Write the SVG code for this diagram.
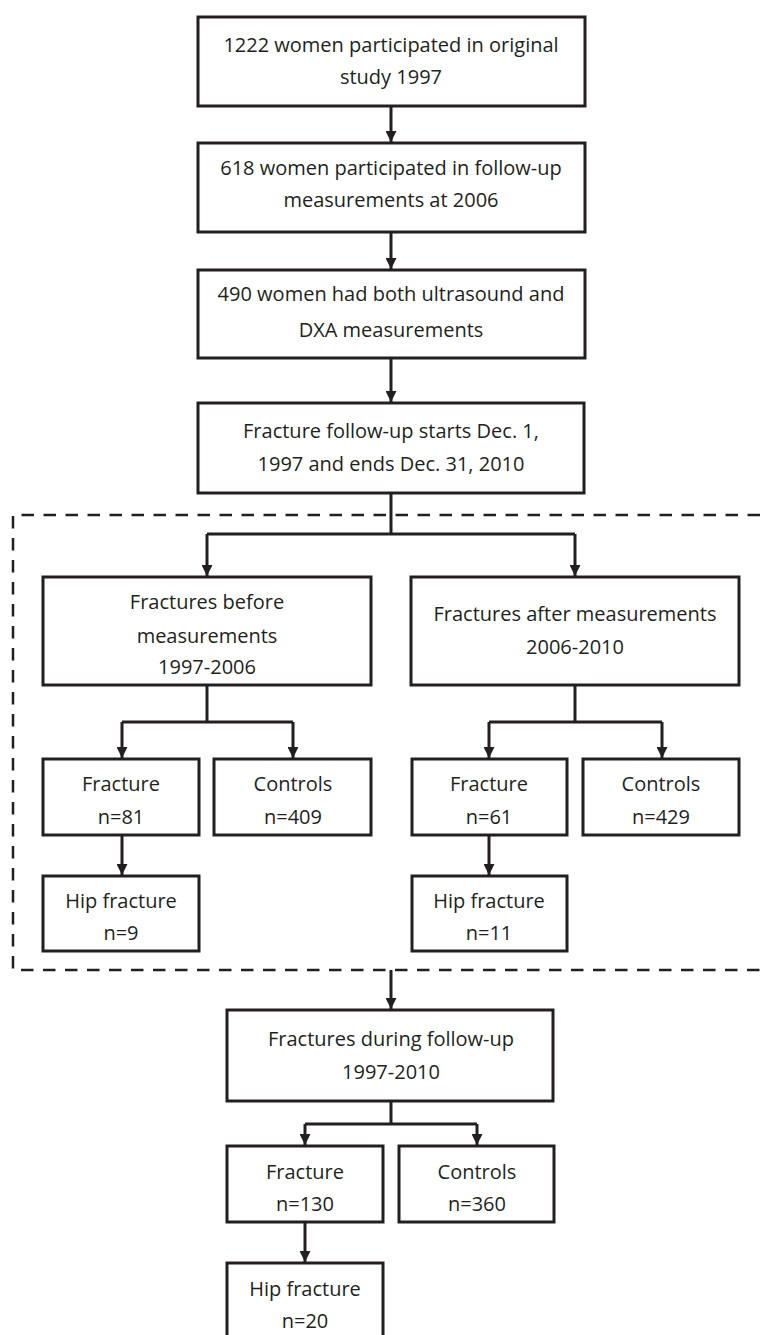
<svg xmlns="http://www.w3.org/2000/svg" width="760" height="1335" viewBox="0 0 760 1335">
<defs>
<style>
.box{fill:#fff;stroke:#231f20;stroke-width:3}
.ln{fill:none;stroke:#231f20;stroke-width:3}
.dash{fill:none;stroke:#231f20;stroke-width:2.5;stroke-dasharray:12.5 9.5}
text{font-family:"Open Sans","Noto Sans",sans-serif;font-size:20px;fill:#231f20;text-anchor:middle}
</style>
<marker id="ah" viewBox="0 0 10 10" refX="10" refY="5" markerWidth="11" markerHeight="11" markerUnits="userSpaceOnUse" orient="auto">
<path d="M0,0 L10,5 L0,10 Z" fill="#231f20"/>
</marker>
</defs>
<rect width="760" height="1335" fill="#fff"/>
<g id="dashed-frame">
<path class="dash" d="M760,515 H13 V970 H760"/>
</g>
<g id="connectors">
<path class="ln" d="M391,106 V142" marker-end="url(#ah)"/>
<path class="ln" d="M391,232 V269" marker-end="url(#ah)"/>
<path class="ln" d="M391,358 V402" marker-end="url(#ah)"/>
<path class="ln" d="M391,493 V534"/>
<path class="ln" d="M207,534 H575"/>
<path class="ln" d="M207,534 V576" marker-end="url(#ah)"/>
<path class="ln" d="M575,534 V576" marker-end="url(#ah)"/>
<path class="ln" d="M207,685 V722"/>
<path class="ln" d="M122,722 H293"/>
<path class="ln" d="M122,722 V758" marker-end="url(#ah)"/>
<path class="ln" d="M293,722 V758" marker-end="url(#ah)"/>
<path class="ln" d="M122,835 V875" marker-end="url(#ah)"/>
<path class="ln" d="M575,685 V722"/>
<path class="ln" d="M489,722 H662"/>
<path class="ln" d="M489,722 V758" marker-end="url(#ah)"/>
<path class="ln" d="M662,722 V758" marker-end="url(#ah)"/>
<path class="ln" d="M489,835 V875" marker-end="url(#ah)"/>
<path class="ln" d="M391,970 V1009" marker-end="url(#ah)"/>
<path class="ln" d="M391,1101 V1124"/>
<path class="ln" d="M305,1124 H477"/>
<path class="ln" d="M305,1124 V1145" marker-end="url(#ah)"/>
<path class="ln" d="M477,1124 V1145" marker-end="url(#ah)"/>
<path class="ln" d="M305,1222 V1262" marker-end="url(#ah)"/>
</g>
<g id="n1"><rect class="box" x="198" y="17" width="387" height="89"/><text x="391" y="52">1222 women participated in original</text><text x="391" y="84">study 1997</text></g>
<g id="n2"><rect class="box" x="198" y="143" width="387" height="89"/><text x="391" y="175">618 women participated in follow-up</text><text x="391" y="207">measurements at 2006</text></g>
<g id="n3"><rect class="box" x="198" y="270" width="387" height="88"/><text x="391" y="301">490 women had both ultrasound and</text><text x="391" y="337">DXA measurements</text></g>
<g id="n4"><rect class="box" x="198" y="403" width="386" height="90"/><text x="391" y="438">Fracture follow-up starts Dec. 1,</text><text x="391" y="471">1997 and ends Dec. 31, 2010</text></g>
<g id="n5"><rect class="box" x="43" y="577" width="328" height="108"/><text x="207" y="609">Fractures before</text><text x="207" y="643">measurements</text><text x="207" y="674">1997-2006</text></g>
<g id="n6"><rect class="box" x="411" y="577" width="328" height="108"/><text x="575" y="621">Fractures after measurements</text><text x="575" y="654">2006-2010</text></g>
<g id="n7"><rect class="box" x="43" y="759" width="156" height="76"/><text x="121" y="791">Fracture</text><text x="121" y="824">n=81</text></g>
<g id="n8"><rect class="box" x="214" y="759" width="157" height="76"/><text x="293" y="791">Controls</text><text x="293" y="824">n=409</text></g>
<g id="n9"><rect class="box" x="43" y="876" width="156" height="75"/><text x="121" y="908">Hip fracture</text><text x="121" y="940">n=9</text></g>
<g id="n10"><rect class="box" x="412" y="759" width="155" height="76"/><text x="489" y="791">Fracture</text><text x="489" y="824">n=61</text></g>
<g id="n11"><rect class="box" x="583" y="759" width="156" height="76"/><text x="661" y="791">Controls</text><text x="661" y="824">n=429</text></g>
<g id="n12"><rect class="box" x="412" y="876" width="155" height="75"/><text x="489" y="908">Hip fracture</text><text x="489" y="940">n=11</text></g>
<g id="n13"><rect class="box" x="227" y="1010" width="326" height="91"/><text x="391" y="1046">Fractures during follow-up</text><text x="391" y="1079">1997-2010</text></g>
<g id="n14"><rect class="box" x="227" y="1146" width="156" height="76"/><text x="305" y="1179">Fracture</text><text x="305" y="1211">n=130</text></g>
<g id="n15"><rect class="box" x="399" y="1146" width="155" height="76"/><text x="477" y="1179">Controls</text><text x="477" y="1211">n=360</text></g>
<g id="n16"><rect class="box" x="227" y="1263" width="156" height="90"/><text x="305" y="1296">Hip fracture</text><text x="305" y="1328">n=20</text></g>
</svg>
